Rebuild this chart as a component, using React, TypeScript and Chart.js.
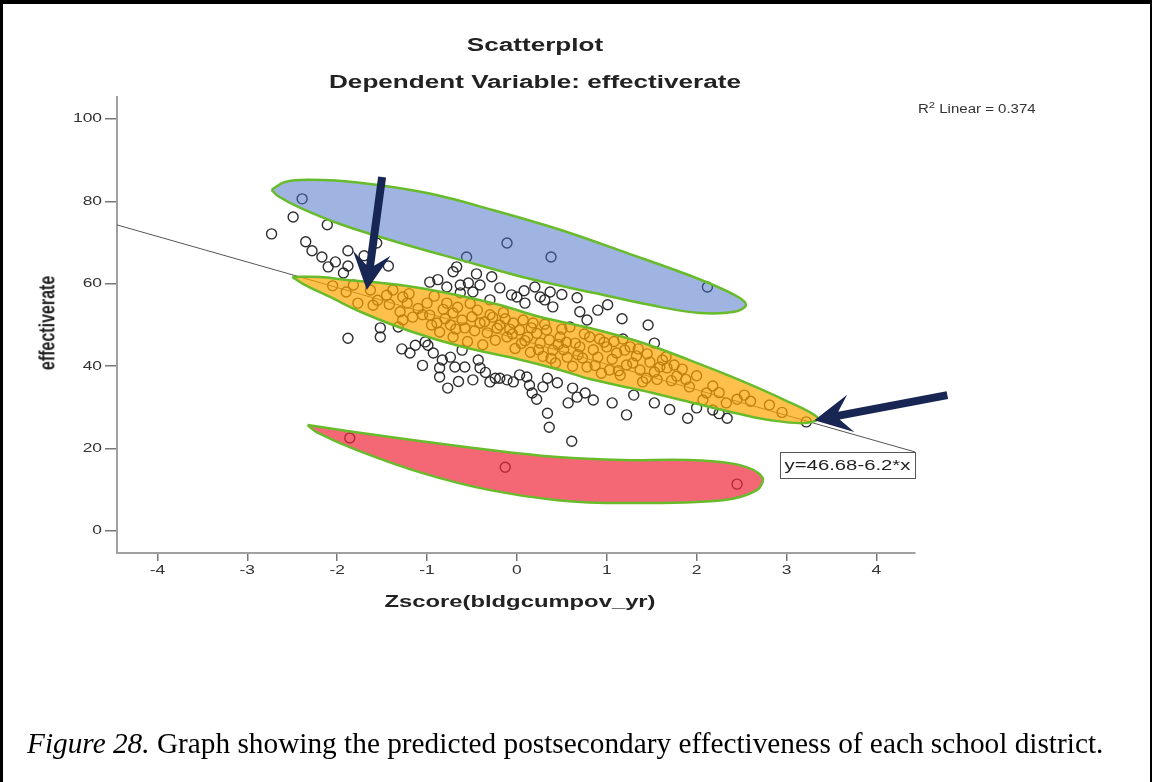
import React, { useEffect, useRef } from 'react';
import { Chart, registerables } from 'chart.js';

Chart.register(...registerables);

// ---------- text ----------
const TITLE_1 = 'Scatterplot';
const TITLE_2 = 'Dependent Variable: effectiverate';
const X_TITLE = 'Zscore(bldgcumpov_yr)';
const Y_TITLE = 'effectiverate';
const R2_VALUE = '0.374';
const EQUATION = 'y=46.68-6.2*x';
const CAPTION_LEAD = 'Figure 28.';
const CAPTION_REST = ' Graph showing the predicted postsecondary effectiveness of each school district.';

// ---------- axes ----------
const X_TICKS = [-4, -3, -2, -1, 0, 1, 2, 3, 4];
const Y_TICKS = [0, 20, 40, 60, 80, 100];
const X_MIN = -4.45;
const X_MAX = 4.43;
const Y_MIN = -5.3;
const Y_MAX = 105.3;

// ---------- fit line (endpoints) ----------
const FIT_X = [-4.45, 4.43];
const FIT_Y = [74.27, 19.21];

// ---------- observations ----------
// points outside the highlighted shapes
const OTHER_POINTS: [number, number][] = [
  [-2.73, 72.1], [-2.49, 76.2], [-2.11, 74.3], [-2.28, 68.0], [-2.17, 66.5], [-2.1, 64.1],
  [-1.88, 68.0], [-1.88, 64.3], [-1.93, 62.6], [-1.43, 64.3], [-1.56, 69.9], [-2.02, 65.3],
  [-0.67, 64.1], [-0.71, 62.9], [-0.28, 61.7], [-0.97, 60.4], [-0.78, 59.2], [-0.63, 59.7],
  [-0.54, 60.2], [-0.41, 59.7], [-0.49, 58.0], [-0.63, 57.8], [-0.06, 57.3], [0.0, 56.8],
  [0.26, 56.8], [0.4, 54.4], [0.67, 56.6], [0.7, 53.2], [1.01, 54.9], [1.17, 51.5],
  [0.78, 51.2], [1.53, 45.6], [-0.19, 59.0], [0.2, 59.2], [0.37, 58.0], [0.31, 56.1],
  [0.09, 55.3], [-0.3, 56.1], [1.46, 50.0], [-0.88, 61.0], [-0.45, 62.4], [0.08, 58.3],
  [0.5, 57.4], [0.9, 53.6], [-1.7, 66.8], [-2.35, 70.2],
  [-1.88, 46.8], [-1.52, 49.3], [-1.52, 47.1], [-1.32, 49.5], [-1.28, 44.2], [-1.19, 43.2],
  [-1.02, 45.9], [-0.99, 45.1], [-0.93, 43.2], [-0.83, 41.5], [-0.86, 39.6], [-0.86, 37.4],
  [-0.77, 34.7], [-0.69, 39.8], [-0.58, 39.8], [-0.43, 41.5], [-0.41, 39.6], [-0.49, 36.7],
  [-0.19, 37.1], [-0.11, 36.7], [-0.04, 36.2], [0.11, 37.4], [0.14, 35.4], [0.17, 33.5],
  [0.29, 35.0], [0.34, 37.1], [0.34, 28.6], [0.36, 25.2], [0.61, 21.8], [0.57, 31.1],
  [0.67, 32.5], [0.76, 33.5], [0.62, 34.7], [1.06, 31.1], [1.22, 28.2], [1.53, 31.1],
  [1.9, 27.4], [2.0, 29.9], [2.18, 29.4], [2.34, 27.4], [3.22, 26.5], [-0.74, 42.2],
  [-0.61, 43.9], [-0.24, 37.1], [-0.3, 36.2], [0.03, 37.9], [-1.13, 45.1], [-1.05, 40.2],
  [-0.65, 36.3], [-0.35, 38.5], [0.22, 32.0], [0.45, 36.0], [0.85, 31.8], [1.3, 33.0],
  [2.25, 28.5], [1.7, 29.5],
];

// points inside the orange band
const BAND_POINTS: [number, number][] = [
  [-2.05, 59.5], [-1.82, 59.7], [-1.77, 55.3], [-1.63, 58.5], [-1.55, 56.0], [-1.45, 57.2],
  [-1.38, 58.5], [-1.3, 53.2], [-1.27, 56.8], [-1.27, 51.2], [-1.22, 55.3], [-1.16, 51.9],
  [-1.1, 54.0], [-1.0, 55.3], [-0.97, 52.4], [-0.92, 57.0], [-0.89, 50.5], [-0.86, 48.3],
  [-0.82, 53.8], [-0.78, 55.3], [-0.74, 50.0], [-0.71, 52.9], [-0.71, 47.1], [-0.66, 54.3],
  [-0.61, 51.2], [-0.58, 49.3], [-0.55, 46.0], [-0.5, 52.0], [-0.47, 48.6], [-0.44, 53.6],
  [-0.41, 50.5], [-0.38, 45.2], [-0.33, 48.1], [-0.3, 52.5], [-0.27, 51.9], [-0.24, 46.3],
  [-0.19, 50.0], [-0.15, 53.0], [-0.11, 47.1], [-0.08, 49.0], [-0.04, 50.5], [-0.02, 44.3],
  [0.03, 48.8], [0.07, 51.2], [0.09, 46.2], [0.12, 47.1], [0.15, 43.4], [0.18, 50.5],
  [0.22, 48.0], [0.26, 45.6], [0.29, 42.4], [0.33, 48.8], [0.36, 46.4], [0.4, 43.9],
  [0.43, 40.8], [0.46, 45.3], [0.48, 47.1], [0.52, 44.0], [0.56, 42.2], [0.59, 49.5],
  [0.62, 40.0], [0.65, 45.6], [0.7, 44.7], [0.73, 42.0], [0.78, 39.8], [0.81, 47.1],
  [0.85, 44.0], [0.9, 42.2], [0.94, 38.3], [0.97, 45.8], [1.0, 44.7], [1.03, 39.1],
  [1.06, 41.7], [1.11, 43.2], [1.15, 37.8], [1.18, 46.6], [1.22, 40.3], [1.26, 44.7],
  [1.29, 40.8], [1.33, 42.5], [1.37, 39.1], [1.4, 36.2], [1.44, 37.1], [1.48, 41.0],
  [1.53, 38.6], [1.59, 39.8], [1.62, 41.5], [1.67, 39.6], [1.72, 36.5], [1.78, 37.6],
  [1.84, 39.3], [1.92, 35.0], [2.07, 31.8], [2.11, 33.5], [2.18, 35.2], [2.33, 31.1],
  [2.45, 32.0], [2.53, 33.0], [2.81, 30.6], [2.95, 28.8],
  [-1.9, 58.0], [-1.6, 54.8], [-1.42, 55.0], [-1.2, 57.6], [-1.05, 52.5], [-0.95, 50.0],
  [-0.8, 51.5], [-0.68, 49.0], [-0.52, 55.2], [-0.36, 50.8], [-0.22, 49.2], [-0.13, 51.5],
  [-0.05, 47.8], [0.05, 45.5], [0.16, 49.3], [0.24, 44.0], [0.31, 50.2], [0.38, 41.9],
  [0.5, 49.0], [0.55, 45.8], [0.68, 42.8], [0.75, 47.8], [0.87, 40.2], [0.92, 46.6],
  [1.08, 46.0], [1.13, 38.9], [1.2, 43.9], [1.35, 44.2], [1.45, 43.0], [1.56, 36.8],
  [1.66, 42.3], [1.75, 40.3], [1.88, 36.8], [2.0, 37.7], [2.25, 33.6], [2.6, 31.5],
];

// points inside the blue ellipse
const HIGH_POINTS: [number, number][] = [
  [-2.39, 80.6], [-0.11, 69.9], [-0.56, 66.5], [0.38, 66.5], [2.12, 59.2],
];

// points inside the red shape
const LOW_POINTS: [number, number][] = [
  [-1.86, 22.6], [-0.13, 15.5], [2.45, 11.4],
];

// ---------- highlight outlines (data units) ----------
const BLUE_OUTLINE: [number, number][] = [
  [-2.73, 82.8], [-2.58, 84.7], [-2.3, 85.2], [-1.75, 84.5], [-1.0, 82.0], [-0.27, 77.9],
  [0.48, 73.1], [1.22, 67.5], [1.96, 61.7], [2.42, 57.3], [2.55, 54.9], [2.42, 53.2],
  [2.04, 52.9], [1.59, 54.4], [0.85, 57.8], [0.11, 61.4], [-0.63, 65.8], [-1.3, 69.9],
  [-1.97, 74.5], [-2.41, 78.4], [-2.66, 81.3],
];
const ORANGE_OUTLINE: [number, number][] = [
  [-2.5, 61.65], [-2.19, 61.65], [-1.89, 60.92], [-1.3, 59.71], [-0.78, 57.77], [-0.19, 54.85],
  [0.26, 51.94], [0.81, 49.27], [1.37, 45.87], [1.92, 41.5], [2.48, 36.65], [2.98, 31.8],
  [3.35, 27.43], [3.2, 26.21], [2.81, 26.94], [2.48, 28.4], [1.92, 31.31], [1.37, 34.22],
  [0.81, 36.89], [0.48, 39.08], [-0.04, 41.99], [-0.6, 44.66], [-1.16, 48.3], [-1.71, 52.91],
  [-2.08, 56.8], [-2.36, 59.71],
];
const RED_OUTLINE: [number, number][] = [
  [-2.33, 25.73], [-1.41, 22.82], [-0.3, 19.66], [0.45, 17.96], [1.18, 17.23], [1.92, 17.23],
  [2.48, 16.02], [2.73, 13.11], [2.67, 9.95], [2.29, 7.52], [1.18, 6.8], [0.45, 7.52],
  [-0.3, 9.95], [-1.05, 14.08], [-1.78, 19.66], [-2.23, 24.03],
];

// ---------- arrows: [tailX, tailY, tipX, tipY] ----------
const ARROWS: [number, number, number, number][] = [
  [-1.5, 85.9, -1.67, 58.5],
  [4.79, 33.0, 3.31, 26.9],
];

const toXY = (arr: [number, number][]) => arr.map(([x, y]) => ({ x, y }));
const STRETCH = 1.45;

function drawArrow(ctx: CanvasRenderingContext2D, x0: number, y0: number, x1: number, y1: number) {
  const dx = x1 - x0;
  const dy = y1 - y0;
  const len = Math.hypot(dx, dy);
  const ux = dx / len;
  const uy = dy / len;
  const nx = -uy;
  const ny = ux;
  const L = 37;
  const W = 19;
  const notch = 25;
  const sw = 4;
  const bx = x1 - ux * notch;
  const by = y1 - uy * notch;
  ctx.beginPath();
  ctx.moveTo(x0 + nx * sw, y0 + ny * sw);
  ctx.lineTo(bx + nx * sw, by + ny * sw);
  ctx.lineTo(x1 - ux * L + nx * W, y1 - uy * L + ny * W);
  ctx.lineTo(x1, y1);
  ctx.lineTo(x1 - ux * L - nx * W, y1 - uy * L - ny * W);
  ctx.lineTo(bx - nx * sw, by - ny * sw);
  ctx.lineTo(x0 - nx * sw, y0 - ny * sw);
  ctx.closePath();
  ctx.fill();
}

function stretchedText(ctx: CanvasRenderingContext2D, text: string, x: number, y: number, align: CanvasTextAlign) {
  ctx.save();
  ctx.translate(x, y);
  ctx.scale(STRETCH, 1);
  ctx.textAlign = align;
  ctx.fillText(text, 0, 0);
  ctx.restore();
}

const overlayPlugin = {
  id: 'overlay',
  afterDatasetsDraw(chart: any) {
    const ctx: CanvasRenderingContext2D = chart.ctx;
    const xs = chart.scales.x;
    const ys = chart.scales.y;
    ctx.save();
    // tick labels (horizontally stretched like the original export)
    ctx.fillStyle = '#333';
    ctx.font = '12px "Liberation Sans"';
    ctx.textBaseline = 'middle';
    Y_TICKS.forEach((v) => stretchedText(ctx, String(v), xs.left - 15, ys.getPixelForValue(v), 'right'));
    ctx.textBaseline = 'top';
    X_TICKS.forEach((v) => stretchedText(ctx, String(v), xs.getPixelForValue(v), ys.bottom + 12, 'center'));
    // arrows
    ctx.fillStyle = 'rgb(24,38,84)';
    ARROWS.forEach(([tx, ty, hx, hy]) => {
      drawArrow(ctx, xs.getPixelForValue(tx), ys.getPixelForValue(ty), xs.getPixelForValue(hx), ys.getPixelForValue(hy));
    });
    // equation box anchored at the fit line's right end
    const ex = xs.getPixelForValue(FIT_X[1]);
    const ey = ys.getPixelForValue(FIT_Y[1]);
    const bw = 135;
    const bh = 26;
    ctx.fillStyle = '#ffffff';
    ctx.fillRect(ex - bw, ey, bw, bh);
    ctx.strokeStyle = '#555';
    ctx.lineWidth = 1;
    ctx.strokeRect(Math.round(ex - bw) + 0.5, Math.round(ey) + 0.5, bw, bh);
    ctx.fillStyle = '#222';
    ctx.font = '14px "Liberation Sans"';
    ctx.textBaseline = 'middle';
    stretchedText(ctx, EQUATION, ex - bw / 2, ey + bh / 2 + 1, 'center');
    ctx.restore();
  },
};

export default function App() {
  const ref = useRef<HTMLCanvasElement>(null);

  useEffect(() => {
    if (!ref.current) return;
    const outline = 'rgb(104,188,44)';
    const shape = (pts: [number, number][], fill: string) => ({
      type: 'line' as const,
      data: toXY([...pts, pts[0]]),
      showLine: true,
      fill: 'shape' as any,
      backgroundColor: fill,
      borderColor: outline,
      borderWidth: 2.5,
      pointRadius: 0,
      tension: 0.35,
      order: 0,
    });
    const pointStyle = {
      pointRadius: 5,
      pointBorderWidth: 1.4,
      pointBorderColor: 'rgba(35,35,35,0.95)',
      pointBackgroundColor: 'rgba(0,0,0,0)',
      showLine: false,
      order: 2,
    };
    const chart = new Chart(ref.current, {
      type: 'scatter',
      data: {
        datasets: [
          { data: toXY(OTHER_POINTS), ...pointStyle },
          { data: toXY(BAND_POINTS), ...pointStyle },
          { data: toXY(HIGH_POINTS), ...pointStyle },
          { data: toXY(LOW_POINTS), ...pointStyle },
          {
            type: 'line' as const,
            data: FIT_X.map((x, i) => ({ x, y: FIT_Y[i] })),
            borderColor: '#555',
            borderWidth: 1,
            pointRadius: 0,
            fill: false,
            order: 1,
          },
          shape(BLUE_OUTLINE, 'rgba(64,106,196,0.5)'),
          shape(ORANGE_OUTLINE, 'rgba(255,165,0,0.7)'),
          shape(RED_OUTLINE, 'rgba(240,40,60,0.7)'),
        ] as any,
      },
      options: {
        responsive: false,
        animation: false,
        devicePixelRatio: 1,
        layout: { padding: { left: 0, top: 97, right: 237, bottom: 0 } },
        plugins: {
          legend: { display: false },
          tooltip: { enabled: false },
          title: { display: false },
        },
        scales: {
          x: {
            type: 'linear',
            min: X_MIN,
            max: X_MAX,
            afterFit: (s: any) => { s.height = 229; },
            afterBuildTicks: (s: any) => { s.ticks = X_TICKS.map((v) => ({ value: v })); },
            grid: { drawOnChartArea: false, drawTicks: true, tickLength: 8, color: '#777', lineWidth: 1.5 },
            border: { display: true, color: '#a0a0a0', width: 2 },
            ticks: { display: false },
          },
          y: {
            type: 'linear',
            min: Y_MIN,
            max: Y_MAX,
            afterFit: (s: any) => { s.width = 117; },
            afterBuildTicks: (s: any) => { s.ticks = Y_TICKS.map((v) => ({ value: v })); },
            grid: { drawOnChartArea: false, drawTicks: true, tickLength: 12, color: '#777', lineWidth: 1.5 },
            border: { display: true, color: '#a0a0a0', width: 2 },
            ticks: { display: false },
          },
        },
      } as any,
      plugins: [overlayPlugin],
    });
    return () => chart.destroy();
  }, []);

  const sans = '"Liberation Sans", Arial, sans-serif';
  const stretch = `scaleX(${STRETCH})`;
  return (
    <div style={{ position: 'absolute', left: 0, top: 0, width: 1152, height: 782, background: '#fff', overflow: 'hidden' }}>
      <canvas ref={ref} width={1152} height={782} style={{ position: 'absolute', left: 0, top: 0, width: 1152, height: 782 }} />
      <div style={{ position: 'absolute', left: 0, top: 0, width: 1152, height: 4, background: '#000' }} />
      <div style={{ position: 'absolute', left: 0, top: 0, width: 3, height: 782, background: '#000' }} />
      <div style={{ position: 'absolute', left: 1150, top: 0, width: 2, height: 782, background: '#000' }} />
      <div style={{ position: 'absolute', left: 535, top: 45, transform: `translate(-50%,-50%) ${stretch}`, font: `bold 18px ${sans}`, color: '#222', whiteSpace: 'nowrap' }}>{TITLE_1}</div>
      <div style={{ position: 'absolute', left: 535, top: 82, transform: `translate(-50%,-50%) ${stretch}`, font: `bold 18px ${sans}`, color: '#222', whiteSpace: 'nowrap' }}>{TITLE_2}</div>
      <div style={{ position: 'absolute', left: 918, top: 100, transformOrigin: 'left center', transform: 'scaleX(1.25)', font: `12px ${sans}`, color: '#333', whiteSpace: 'nowrap' }}>
        R<sup style={{ fontSize: 9 }}>2</sup> Linear = {R2_VALUE}
      </div>
      <div style={{ position: 'absolute', left: 47, top: 323, transform: 'translate(-50%,-50%) rotate(-90deg) scaleY(1.4)', font: `bold 16px ${sans}`, color: '#222', whiteSpace: 'nowrap' }}>{Y_TITLE}</div>
      <div style={{ position: 'absolute', left: 520, top: 602, transform: `translate(-50%,-50%) scaleX(1.4)`, font: `bold 17px ${sans}`, color: '#222', whiteSpace: 'nowrap' }}>{X_TITLE}</div>
      <div style={{ position: 'absolute', left: 27, top: 743, transform: 'translateY(-50%)', font: `29.3px "Liberation Serif", "Times New Roman", serif`, color: '#000', whiteSpace: 'nowrap' }}>
        <i>{CAPTION_LEAD}</i>{CAPTION_REST}
      </div>
    </div>
  );
}
